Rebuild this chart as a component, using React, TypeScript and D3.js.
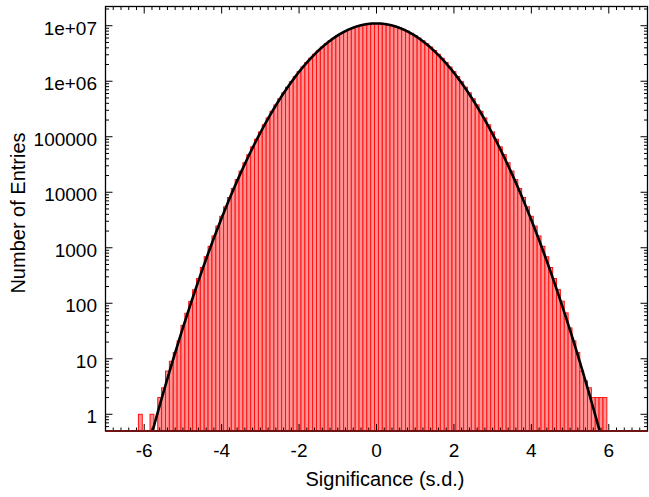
import React from 'react';
import * as d3 from 'd3';

// Histogram bins (centres, width 0.1)
const BIN_WIDTH = 0.1;
const binCenters = [
  -6.1, -6.0, -5.9, -5.8, -5.7, -5.6, -5.5, -5.4, -5.3, -5.2, -5.1,
  -5.0, -4.9, -4.8, -4.7, -4.6, -4.5, -4.4, -4.3, -4.2, -4.1,
  -4.0, -3.9, -3.8, -3.7, -3.6, -3.5, -3.4, -3.3, -3.2, -3.1,
  -3.0, -2.9, -2.8, -2.7, -2.6, -2.5, -2.4, -2.3, -2.2, -2.1,
  -2.0, -1.9, -1.8, -1.7, -1.6, -1.5, -1.4, -1.3, -1.2, -1.1,
  -1.0, -0.9, -0.8, -0.7, -0.6, -0.5, -0.4, -0.3, -0.2, -0.1,
  0.0, 0.1, 0.2, 0.3, 0.4, 0.5, 0.6, 0.7, 0.8, 0.9,
  1.0, 1.1, 1.2, 1.3, 1.4, 1.5, 1.6, 1.7, 1.8, 1.9,
  2.0, 2.1, 2.2, 2.3, 2.4, 2.5, 2.6, 2.7, 2.8, 2.9,
  3.0, 3.1, 3.2, 3.3, 3.4, 3.5, 3.6, 3.7, 3.8, 3.9,
  4.0, 4.1, 4.2, 4.3, 4.4, 4.5, 4.6, 4.7, 4.8, 4.9,
  5.0, 5.1, 5.2, 5.3, 5.4, 5.5, 5.6, 5.7, 5.8, 5.9,
];
const binCounts = [
  1, 0, 0, 1, 0, 2, 3, 6, 9, 13, 21,
  40, 66, 108, 175, 278, 440, 690, 1058, 1632, 2458,
  3688, 5475, 8045, 11700, 16860, 24050, 33970, 47510, 65730, 90070,
  122190, 164100, 218200, 287300, 374500, 483300, 617400, 781100, 978100, 1212700,
  1488700, 1809200, 2176900, 2593300, 3058400, 3571200, 4128400, 4725200, 5354300, 6006800,
  6671800, 7336800, 7987700, 8609700, 9188000, 9707500, 10154300, 10516000, 10782200, 10945100,
  11000000, 10945300, 10782000, 10516200, 10154100, 9707300, 9188200, 8609500, 7987900, 7336600,
  6671900, 6006700, 5354200, 4725300, 4128300, 3571300, 3058300, 2593200, 2177000, 1809100,
  1488800, 1212600, 978200, 781000, 617500, 483200, 374600, 287200, 218300, 164000,
  122200, 90080, 65740, 47500, 33980, 24060, 16870, 11690, 8050, 5480,
  3690, 2460, 1630, 1060, 688, 441, 279, 176, 109, 67,
  36, 21, 13, 6, 4, 3, 2, 2, 2, 2,
];

// Gaussian fit parameters
const FIT_CONSTANT = 1.1e7;
const FIT_MEAN = -0.01;
const FIT_SIGMA = 0.993;

// Axes
const X_DOMAIN = [-7, 7];
const Y_DOMAIN = [0.5, 2.22e7];
const xMajorTicks = [-6, -4, -2, 0, 2, 4, 6];
const xTickLabels = ['-6', '-4', '-2', '0', '2', '4', '6'];
const yMajorTicks = [1, 10, 100, 1000, 10000, 100000, 1e6, 1e7];
const yTickLabels = ['1', '10', '100', '1000', '10000', '100000', '1e+06', '1e+07'];
const X_TITLE = 'Significance (s.d.)';
const Y_TITLE = 'Number of Entries';

const W = 649;
const H = 497;
const M = { left: 105.5, right: 647.5, top: 6.5, bottom: 431 };
const FONT = "'Liberation Sans', Arial, Helvetica, sans-serif";

export default function App() {
  const x = d3.scaleLinear().domain(X_DOMAIN).range([M.left, M.right]);
  const y = d3.scaleLog().domain(Y_DOMAIN).range([M.bottom, M.top]);

  const xMinor: number[] = [];
  for (let v = -7; v <= 7.0001; v += 0.2) {
    const r = Math.round(v * 10) / 10;
    if (Math.abs(r % 2) > 1e-6) xMinor.push(r);
  }
  const yMinor: number[] = [];
  for (let d = -1; d <= 7; d++) {
    for (let k = 2; k <= 9; k++) {
      const v = k * Math.pow(10, d);
      if (v >= Y_DOMAIN[0] && v <= Y_DOMAIN[1]) yMinor.push(v);
    }
  }

  const fit = (v: number) =>
    FIT_CONSTANT * Math.exp(-0.5 * Math.pow((v - FIT_MEAN) / FIT_SIGMA, 2));
  const samples = d3.range(-7, 7.0001, 0.01);
  const line = d3
    .line<number>()
    .x((v) => x(v))
    .y((v) => y(Math.max(fit(v), 0.05)))
    .curve(d3.curveLinear);

  const majLen = 7;
  const minLen = 3.5;

  return (
    <svg
      width={W}
      height={H}
      style={{ position: 'absolute', left: 0, top: 0, background: '#fff' }}
      fontFamily={FONT}
    >
      <defs>
        <clipPath id="frame">
          <rect x={M.left} y={M.top} width={M.right - M.left} height={M.bottom - M.top} />
        </clipPath>
      </defs>
      <rect x={0} y={0} width={W} height={H} fill="#fff" />

      {/* histogram */}
      <g clipPath="url(#frame)">
        {binCenters.map((c, i) =>
          binCounts[i] > 0 ? (
            <rect
              key={i}
              x={x(c - BIN_WIDTH / 2)}
              width={x(c + BIN_WIDTH / 2) - x(c - BIN_WIDTH / 2)}
              y={y(binCounts[i])}
              height={M.bottom - y(binCounts[i])}
              fill="#ff9494"
              stroke="#ff1010"
              strokeWidth={1}
            />
          ) : null
        )}
        <path d={line(samples) || ''} fill="none" stroke="#000" strokeWidth={2.6} />
      </g>

      {/* frame */}
      <rect
        x={M.left}
        y={M.top}
        width={M.right - M.left}
        height={M.bottom - M.top}
        fill="none"
        stroke="#000"
        strokeWidth={1.3}
      />

      {/* x ticks (bottom + top) */}
      {xMajorTicks.map((t) => (
        <g key={'xm' + t}>
          <line x1={x(t)} x2={x(t)} y1={M.bottom} y2={M.bottom - majLen} stroke="#000" />
          <line x1={x(t)} x2={x(t)} y1={M.top} y2={M.top + majLen} stroke="#000" />
        </g>
      ))}
      {xMinor.map((t) => (
        <g key={'xn' + t}>
          <line x1={x(t)} x2={x(t)} y1={M.bottom} y2={M.bottom - minLen} stroke="#000" />
          <line x1={x(t)} x2={x(t)} y1={M.top} y2={M.top + minLen} stroke="#000" />
        </g>
      ))}
      {/* y ticks (left + right) */}
      {yMajorTicks.map((t) => (
        <g key={'ym' + t}>
          <line x1={M.left} x2={M.left + majLen} y1={y(t)} y2={y(t)} stroke="#000" />
          <line x1={M.right} x2={M.right - majLen} y1={y(t)} y2={y(t)} stroke="#000" />
        </g>
      ))}
      {yMinor.map((t) => (
        <g key={'yn' + t}>
          <line x1={M.left} x2={M.left + minLen} y1={y(t)} y2={y(t)} stroke="#000" />
          <line x1={M.right} x2={M.right - minLen} y1={y(t)} y2={y(t)} stroke="#000" />
        </g>
      ))}

      {/* bottom baseline (histogram outline over axis) */}
      <line x1={M.left} x2={M.right} y1={M.bottom} y2={M.bottom} stroke="#6e1414" strokeWidth={2} />

      {/* tick labels */}
      {xMajorTicks.map((t, i) => (
        <text key={'xl' + t} x={x(t)} y={457} textAnchor="middle" fontSize={19} fill="#000">
          {xTickLabels[i]}
        </text>
      ))}
      {yMajorTicks.map((t, i) => (
        <text key={'yl' + t} x={97} y={y(t) + 9} textAnchor="end" fontSize={19} fill="#000">
          {yTickLabels[i]}
        </text>
      ))}

      {/* titles */}
      <text x={385} y={486} textAnchor="middle" fontSize={20} fill="#000">
        {X_TITLE}
      </text>
      <text
        transform={`translate(25, ${213}) rotate(-90)`}
        textAnchor="middle"
        fontSize={20}
        fill="#000"
      >
        {Y_TITLE}
      </text>
    </svg>
  );
}
